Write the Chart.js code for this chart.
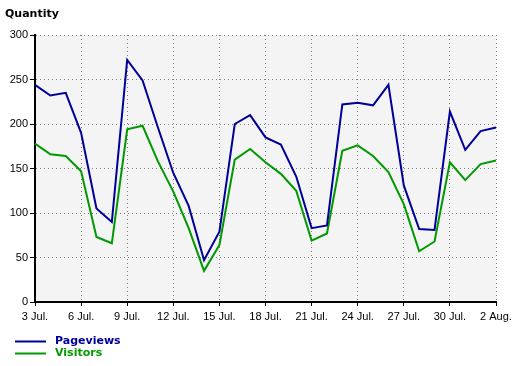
<!DOCTYPE html>
<html><head><meta charset="utf-8">
<script src="https://cdn.jsdelivr.net/npm/chart.js@4/dist/chart.umd.min.js"></script>
<style>html,body{margin:0;padding:0;background:#fff;}canvas{display:block;}</style>
</head><body>
<canvas id="c" width="520" height="366"></canvas>
<script>
const categories = ["3 Jul.","4 Jul.","5 Jul.","6 Jul.","7 Jul.","8 Jul.","9 Jul.","10 Jul.","11 Jul.","12 Jul.","13 Jul.","14 Jul.","15 Jul.","16 Jul.","17 Jul.","18 Jul.","19 Jul.","20 Jul.","21 Jul.","22 Jul.","23 Jul.","24 Jul.","25 Jul.","26 Jul.","27 Jul.","28 Jul.","29 Jul.","30 Jul.","31 Jul.","1 Aug.","2 Aug."];
const pageviews = [244,232,235,190,105,90,272,249,196,145,108,47,79,200,210,185,177,141,83,86,222,224,221,244,131,82,81,214,171,192,196];
const visitors  = [178,166,164,147,73,66,194,198,158,124,83,35,64,160,172,157,144,125,69,77,170,176,164,146,110,57,68,157,137,155,159];
const tickLabels = ["3 Jul.","6 Jul.","9 Jul.","12 Jul.","15 Jul.","18 Jul.","21 Jul.","24 Jul.","27 Jul.","30 Jul.","2 Aug."];
const yTitle = "Quantity";
const seriesNames = ["Pageviews","Visitors"];
const seriesColors = ["#000099","#009900"];

const decor = {
  id: 'decor',
  beforeDraw(chart) {
    const {ctx, chartArea: a} = chart;
    ctx.save();
    ctx.fillStyle = '#f4f4f4';
    ctx.fillRect(a.left, a.top, a.right - a.left, a.bottom - a.top);
    ctx.restore();
  },
  afterDraw(chart) {
    const ctx = chart.ctx;
    ctx.save();
    ctx.fillStyle = '#000';
    ctx.font = 'bold 11px "DejaVu Sans"';
    ctx.textBaseline = 'alphabetic';
    ctx.fillText(yTitle, 5, 17);
    seriesNames.forEach((n, i) => {
      const y = 341.5 + i * 12;
      ctx.strokeStyle = seriesColors[i];
      ctx.lineWidth = 2;
      ctx.beginPath(); ctx.moveTo(15, y); ctx.lineTo(46, y); ctx.stroke();
      ctx.fillStyle = seriesColors[i];
      ctx.textBaseline = 'middle';
      ctx.fillText(n, 55, y);
    });
    ctx.restore();
  }
};

new Chart(document.getElementById('c'), {
  type: 'line',
  data: {
    labels: categories,
    datasets: [
      {label: seriesNames[0], data: pageviews, borderColor: seriesColors[0], borderWidth: 2, pointRadius: 0, tension: 0, fill: false},
      {label: seriesNames[1], data: visitors, borderColor: seriesColors[1], borderWidth: 2, pointRadius: 0, tension: 0, fill: false}
    ]
  },
  options: {
    responsive: false,
    animation: false,
    devicePixelRatio: 1,
    layout: {padding: {top: 35, right: 24, left: 0, bottom: 0}},
    plugins: {legend: {display: false}, tooltip: {enabled: false}, title: {display: false}},
    scales: {
      x: {
        type: 'category',
        offset: false,
        afterFit(s) { s.height = 64; },
        grid: {color: '#808080', lineWidth: 1, tickColor: '#000', tickLength: 4, drawTicks: true},
        border: {display: true, color: '#000', width: 2, dash: [1, 3]},
        ticks: {
          autoSkip: false, maxRotation: 0, minRotation: 0, padding: 4,
          color: '#000', font: {family: '"Liberation Sans", Arial', size: 11},
          callback(v, i) { const l = categories[i]; return tickLabels.includes(l) ? l : null; }
        }
      },
      y: {
        min: 0, max: 300,
        afterFit(s) { s.width = 35; },
        grid: {color: '#808080', lineWidth: 1, tickColor: '#000', tickLength: 5},
        border: {display: true, color: '#000', width: 2, dash: [1, 3]},
        ticks: {stepSize: 50, padding: 2, color: '#000', font: {family: '"Liberation Sans", Arial', size: 11}}
      }
    }
  },
  plugins: [decor]
});
</script>
</body></html>
